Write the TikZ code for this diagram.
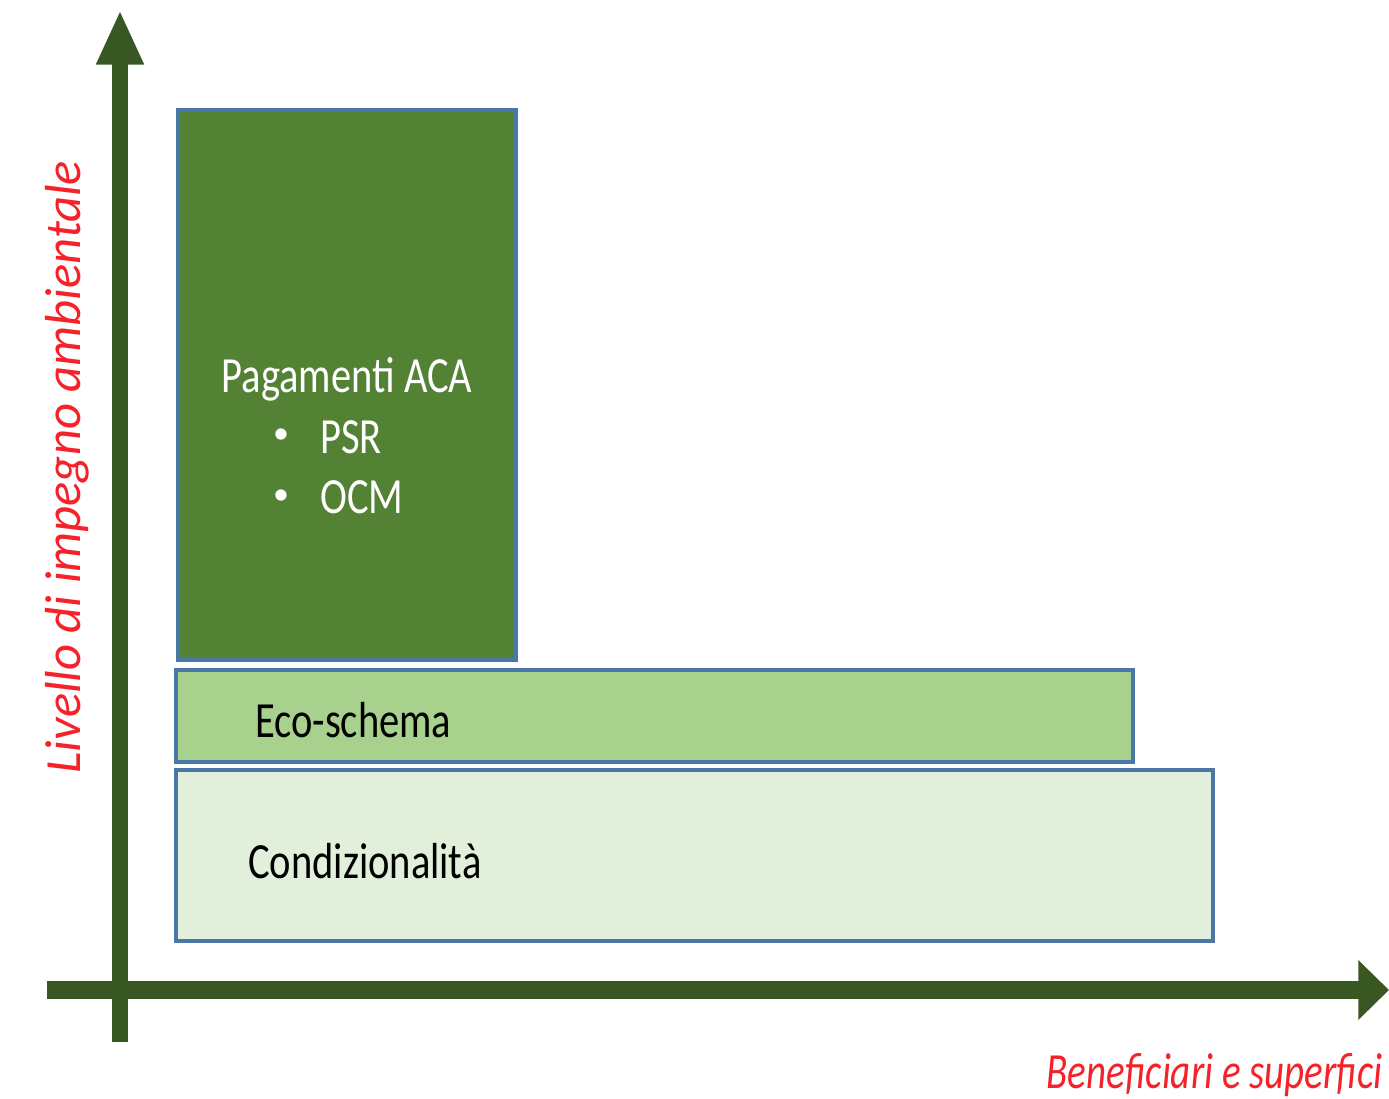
\documentclass[tikz,border=0pt]{standalone}
\usepackage{fontspec}
\usepackage{graphicx}
\setmainfont{Carlito}
\usetikzlibrary{arrows.meta}
\definecolor{axisgreen}{HTML}{385723}
\definecolor{acagreen}{HTML}{548235}
\definecolor{ecogreen}{HTML}{A9D18E}
\definecolor{condgreen}{HTML}{E2EFDA}
\definecolor{boxborder}{HTML}{4A78A6}
\definecolor{labelred}{HTML}{F5222A}
\begin{document}
\begin{tikzpicture}[x=0.75pt,y=-0.75pt,
  box/.style={draw=boxborder,line width=2.3pt,rectangle,inner sep=0pt},
  txt/.style={inner sep=0pt,font=\fontsize{38}{45}\selectfont},
  bullettxt/.style={inner sep=0pt,font=\fontsize{24}{30}\selectfont},
  axislbl/.style={inner sep=0pt,text=labelred,font=\fontsize{38}{45}\selectfont\itshape},
  axisline/.style={draw=axisgreen}]
\useasboundingbox (0,0) rectangle (1389,1099);
% boxes
\node[box,fill=acagreen,minimum width=253.5pt,minimum height=412.5pt] (aca) at (347,385) {};
\node[box,fill=ecogreen,minimum width=717.75pt,minimum height=69pt] (eco) at (654.5,716) {};
\node[box,fill=condgreen,minimum width=777.75pt,minimum height=128.25pt] (cond) at (694.5,855.5) {};
% texts in boxes
\node[txt,text=white,anchor=base] (acat) at (347,392) {\scalebox{0.8}[1]{Pagamenti ACA}};
\node[bullettxt,text=white] (b1) at (281,436) {•};
\node[txt,text=white,anchor=base west] (psr) at (320,453) {\scalebox{0.8}[1]{PSR}};
\node[bullettxt,text=white] (b2) at (281,497) {•};
\node[txt,text=white,anchor=base west] (ocm) at (320,513) {\scalebox{0.8}[1]{OCM}};
\node[txt,anchor=base west] (ecot) at (255,737) {\scalebox{0.8}[1]{Eco-schema}};
\node[txt,anchor=base west] (condt) at (248,878) {\scalebox{0.8}[1]{Condizionalità}};
% axes
\coordinate (ybot) at (120,1042);
\coordinate (ytop) at (120,10);
\coordinate (xleft) at (47,990);
\coordinate (xright) at (1389,990);
\draw[axisline,line width=12pt,-{Triangle[width=33pt,length=41pt]}] (ybot) -- (ytop);
\draw[axisline,line width=14pt,-{Triangle[width=43.5pt,length=23pt]}] (xleft) -- (xright);
% axis labels
\node[axislbl,rotate=90,anchor=base] (ylab) at (80,467) {Livello di impegno ambientale};
\node[axislbl,anchor=base east] (xlab) at (1383,1088) {\scalebox{0.77}[1]{Beneficiari e superfici}};
\end{tikzpicture}
\end{document}
